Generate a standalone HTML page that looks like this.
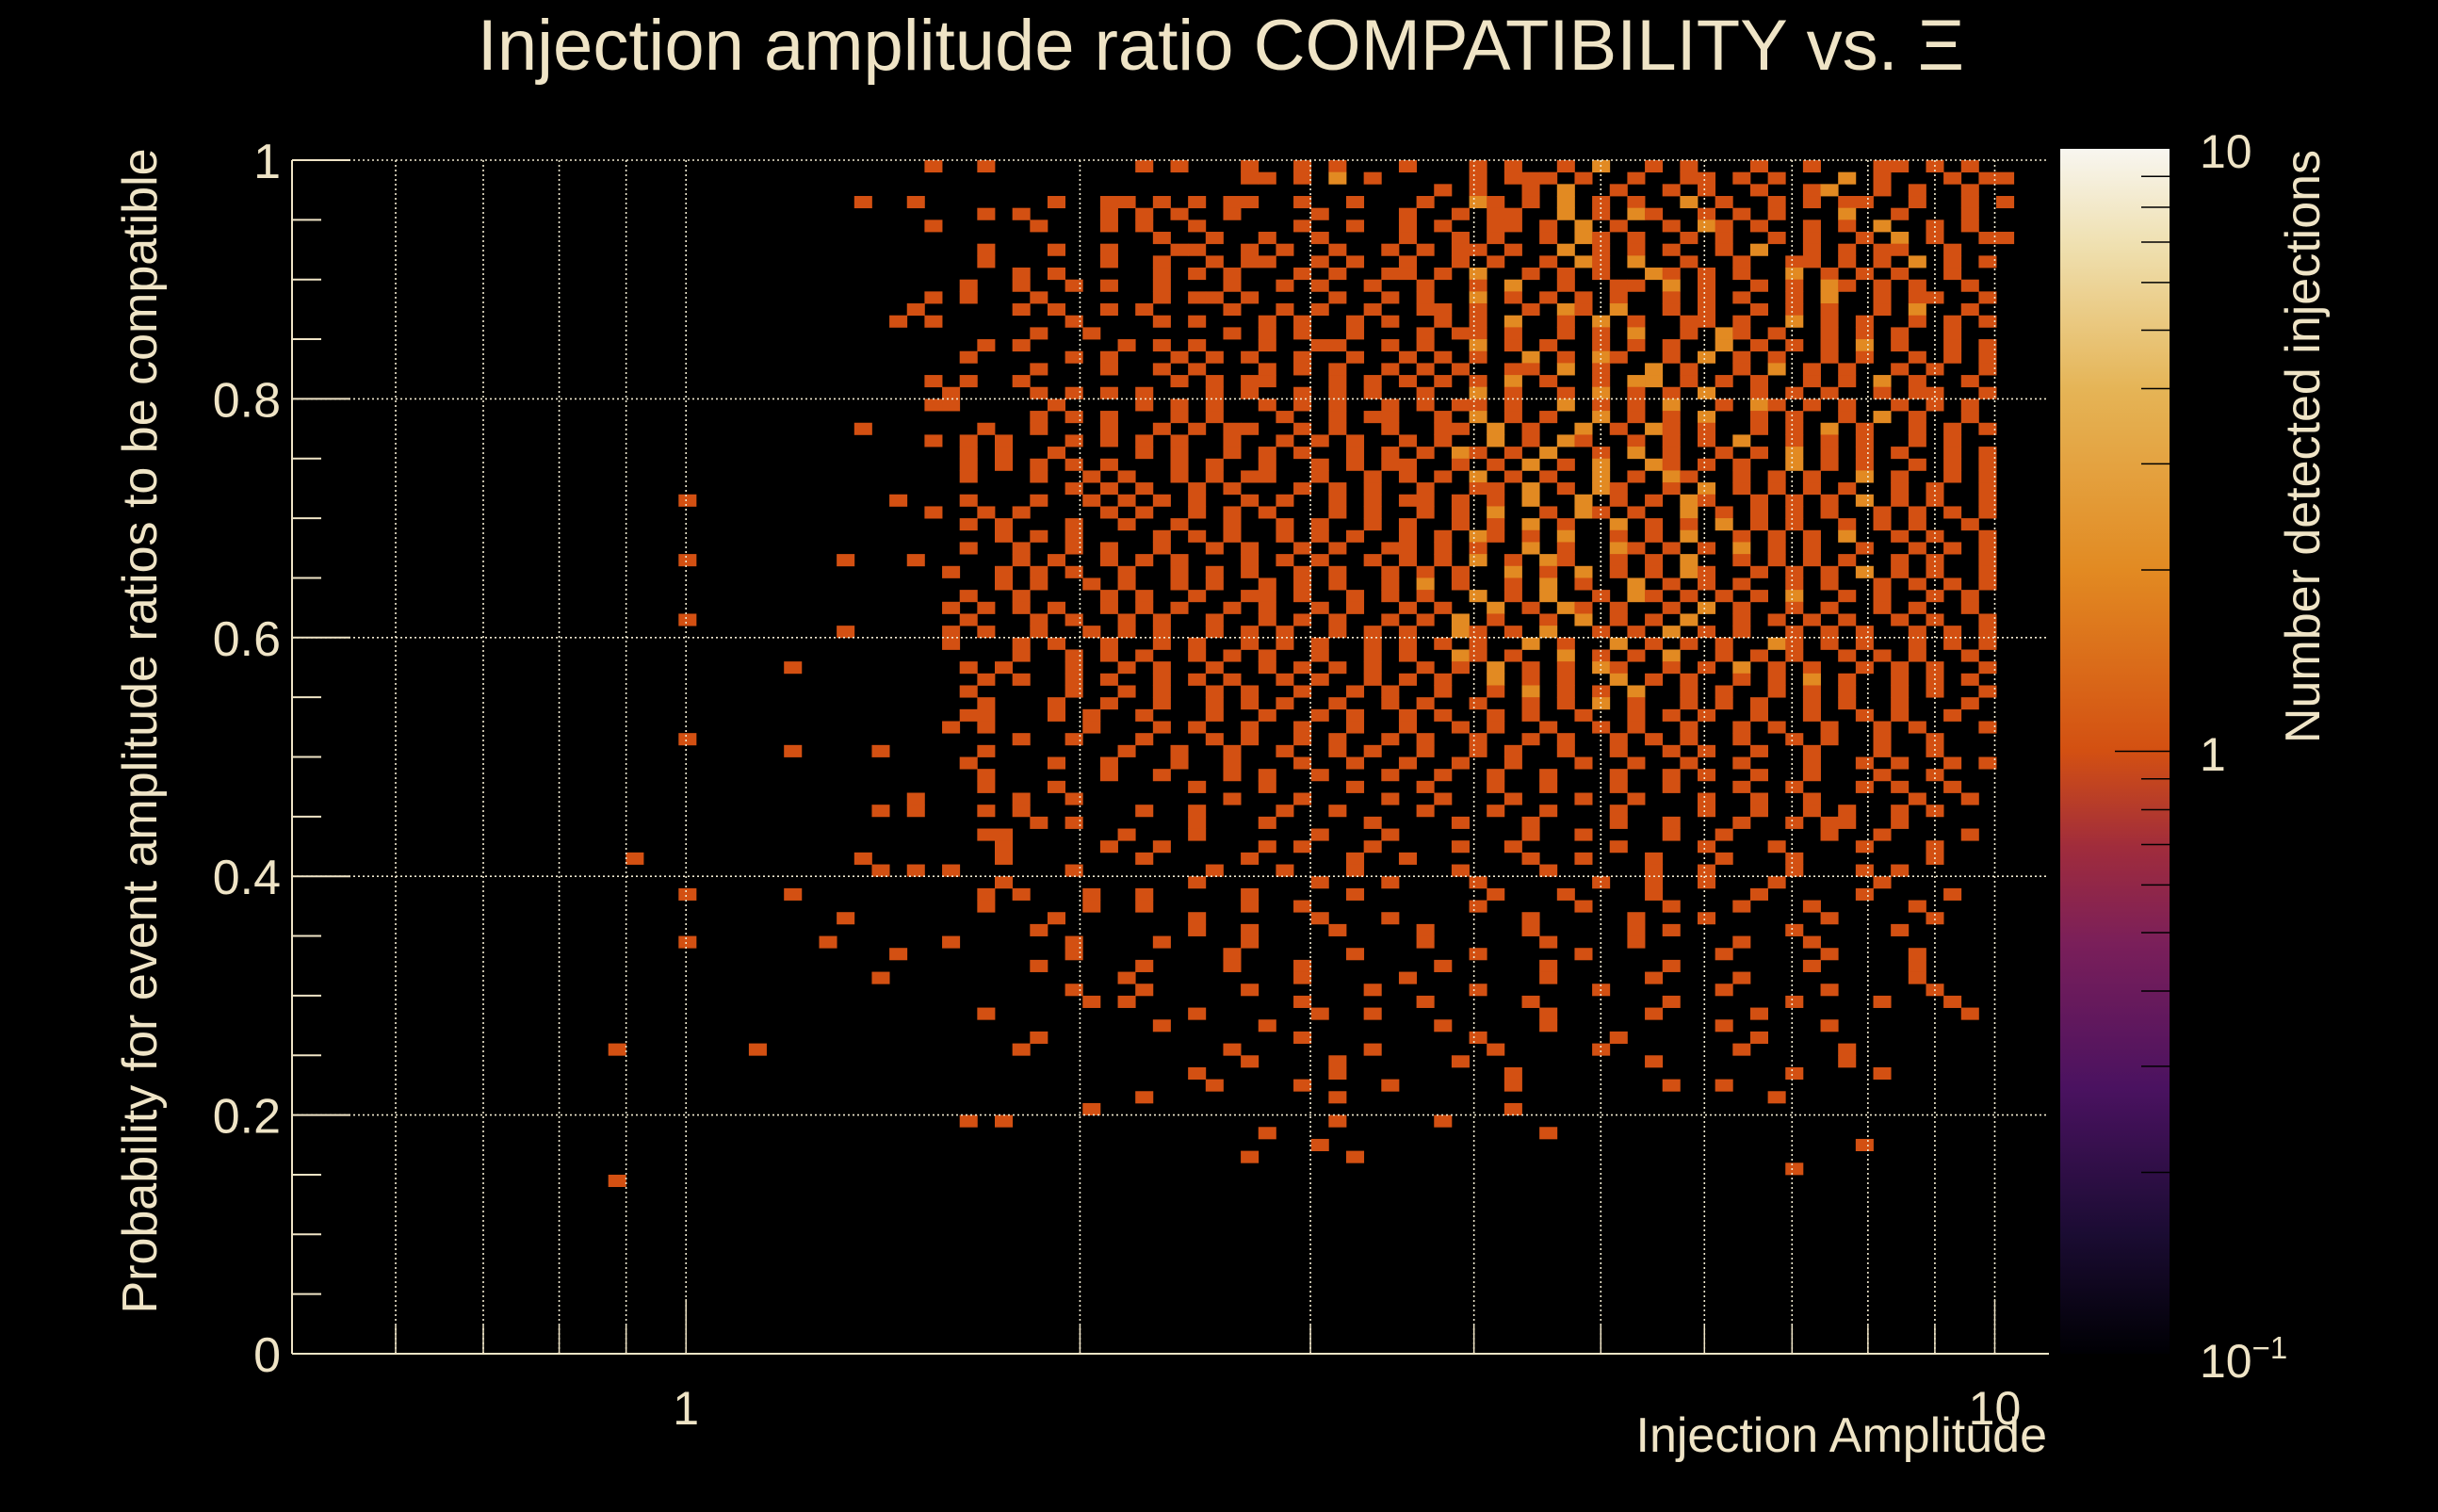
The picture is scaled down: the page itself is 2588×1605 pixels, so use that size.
<!DOCTYPE html>
<html><head><meta charset="utf-8">
<style>
html,body{margin:0;padding:0;background:#000;}
body{width:2588px;height:1600px;overflow:hidden;font-family:"Liberation Sans",sans-serif;}
svg text{font-family:"Liberation Sans",sans-serif;fill:#efe4c6;}
</style></head>
<body>
<svg id="chart" width="2588" height="1600" viewBox="0 0 2588 1600" xmlns="http://www.w3.org/2000/svg">
<rect x="0" y="0" width="2588" height="1600" fill="#000"/>
<g id="cells"></g>
<g id="grid"></g>
<g id="axes"></g>
<defs>
<linearGradient id="cbgrad" x1="0" y1="1" x2="0" y2="0">
<stop offset="0" stop-color="#000004"/>
<stop offset="0.1" stop-color="#1b0c33"/>
<stop offset="0.22" stop-color="#4a1260"/>
<stop offset="0.34" stop-color="#7a1f5a"/>
<stop offset="0.42" stop-color="#a02c3c"/>
<stop offset="0.5" stop-color="#d35012"/>
<stop offset="0.65" stop-color="#e28a22"/>
<stop offset="0.8" stop-color="#e5b456"/>
<stop offset="0.92" stop-color="#efe0b0"/>
<stop offset="1" stop-color="#f8f6f0"/>
</linearGradient>
</defs>
<rect x="2187" y="158" width="116" height="1279" fill="url(#cbgrad)"/>
<g id="cbticks"></g>
<text x="1296" y="74" font-size="76" text-anchor="middle">Injection amplitude ratio COMPATIBILITY vs.  Ξ</text>
<text transform="translate(166,776) rotate(-90)" font-size="52" text-anchor="middle">Probability for event amplitude ratios to be compatible</text>
<text x="2173" y="1541" font-size="52" text-anchor="end">Injection Amplitude</text>
<text transform="translate(2462,474) rotate(-90)" font-size="52" text-anchor="middle">Number detected injections</text>
<text x="2335" y="178" font-size="50">10</text>
<text x="2335" y="818" font-size="50">1</text>
<text x="2335" y="1462" font-size="50">10<tspan dy="-20" font-size="33">−1</tspan></text>
</svg>
<script>
// ---- data ----
const xTickValues = [1, 10];
const xTickLabels = ["1", "10"];
const yTickValues = [0, 0.2, 0.4, 0.6, 0.8, 1];
const yTickLabels = ["0", "0.2", "0.4", "0.6", "0.8", "1"];
const xGridValues = [0.6,0.7,0.8,0.9,1,2,3,4,5,6,7,8,9,10];
const colorbarMin = 0.1;
const colorbarMax = 10;
const firstCol = 12;   // column index of first char in each row string
const topRow = 99;     // row index of first string (rows go downward)
// counts per bin: '.' = empty, digits = count
const rowCounts = [
"........................1..1........1.1...1..1.1...1...1.1..1.2..1.1...1..1...11.1.1.",
"..........................................11.1.2.1.....1.111.1..1..11.1.1...2.1...1.11",
".....................................................1.1..1.2..1..1.1..1..12..1.1..1.",
"....................1..1.......1..11.1.1.11..1..1...1..21.1.2.1.1..2.1..1.1.11..1..1.1",
"...........................1.1....1.1.1..1....1....1..1.11..2.1.21..1.1.1...2..1...1.",
"........................1.....1...1.1..1.....1..1..1.1..11.1.2.1..1.21.1..1.1.2..1.1.",
".....................................1..1..1..1....1..1.1..1.21.1..1.1..1.1..1.2.1..11",
"...........................1...1..1...11..1.1..1..1.1.11.1..2.1.1.1..1.2..1.1.11..1..",
"...........................1......1..1..1.11..1.1..1..1.1..1.21.2..1..1..11.1.1.2.1.1",
".............................1.1.....1.1.1...1.1..11.1.2..1.1.1..21.1.1..2.1.1.1..1.",
"..........................1..1..1.1..1...1..1.1..1..1..1.2..1..11.2.1..1.1.21.1.1..1.",
"........................1.1...1......1.11.1....1..1.1..2.1.1.1.1..1.1.1..1.2..1.11..1",
".......................1.....1.1..1.1....1..1.1..1..11.1..1.21.2..1.1..1.1.1..1.2..1.",
"......................1.1.......1....1.1...1.1..1.1..1.1.2..1.2.1..11.1..2.1.1..1.1.1",
"..............................1..1.......1.1.1..1...1.11.1..1.1.2..1.21.1..1.1.1..1..",
"...........................1.1.....1.1.1...1..11..1.1..2.1.1..1.1.1..2.1.1.1.2.1..1.1",
"..........................1.....1.1...1.1.1..1..1..1.1.1..2.1.21..1.2.1.1..1.1..1.1.1",
"..............................1...1..1.1...1.1.1..1.1.1..11.2.1..2.1..1.2.1.1..1.1..1",
"........................1.1..1........1.1.11...1.1.1.1.1.2.1..1.22.1.1.1..1.1.2.1..1.",
".........................1....1.1.1.1...1.1..1.1.1..1..2.1..1.2.1.1.2..1.1.1..1.11..1",
"........................11.....1....1.1.1..1.1.1..1.1.11.1..2.1.1.2..1.21.1.1..1.1.1.",
"..............................1.1.1...1.1...1..1.11..1.2.1.1..2.1.1.2..1.1..1.2.1..1.",
"....................1......1..1...1..1.1.11..1.1..1..11.2.1..2.1.21.1..1.1.2.1..1.1.1",
"........................1.1.1...1.1.1.1..1..1.1.1..1.1..2.1.21..1.1.1.2..1.1.1..1.1..",
"..........................1.1..1....1.1..1.1.1..1.1.1.21.1.2..1.2.1..1.1.2.1.1.1..1.1",
"..........................1.1.1.1.1...1.1..1..1.1.11..1.1.2.1.2..21.1.1..2.1.1..1.1.1",
"..........................1...1..1.1..1.1.11..1..1.1.1.2.1.1..2.1.21..1.1.1..2.1..1.1",
"................................1.1.1..1.1...1.1.1..1..11.2.1.21..1.2.1.1.1.1..1.1..1",
"..........1...........1...1...1..1.1.1.1..1.1..1.1.11.1.1.2..2.1.1.21..1.1.1.2.1.1..1",
"........................1..1.1....1.1..1.1.1...1.1..1.1.2..1.21.1..2.1.1.1.1..1.1.1.1",
"..........................1.1...1..1..1..1..1.1..1.1..1.1.2.1..2.1.1.2.1.1..1.1.1..1.",
"............................1.1.1....1.1.1..1.1.1..1.1.21.1.2..1.1.2..1.1.1.2..1.1..1",
"..........................1..1..1.1..1..1.1..1.1..11.1.1..2.1..21.1.1.2.1.1..1..1.1.1",
"..........1........1...1.....1.1..1.1.1...1.1.1..1.1.1.2.1.21..1.1.2..1.1.1.1..1.1..1",
".........................1..1.1.1..1..1.1.1..1.1..1.1.1..2.1.2.1.1.21..1.1.1.2.1.1..1",
"............................1.1..1.1..1.1..1.1.1..1.2.1..1.2.1..2.1.1.1..1.1..1.1.1.1",
"..........................1..1....1.1..1..11.1..1.1.1..2.1.2..1.21.1.1.1.2..1.1..1.1.",
".........................1.1.1.1..1.1.1..1.1..1.1..1.1..2.1.21.1..1.2.1..1.1..1.1..1.",
"..........1...............1...1.1..1.1..1..1.1.1..1.1.2.1..1.2.1.1.2..1.1.1.1..1.1..1",
"...................1.....1.1..1..1.1.1..1.1.1..1.1.1..21.1.2..1.1.2.1.1..1.1.1..1.1.1",
".........................1...1.1..1..1.1..1.1.1..1.1.1.1..2.1..2.1.1.1..21.1.1..1.1.1",
".............................1..1.1.1..1.1.1..1..1.1..21.1..2.1.1.2..1.1.1..1.1.1..1.",
"................1.........1.1...1..1.1..1..1.1.1.1..1.1.2.1.1.21..1.1.2.1.1..1.1.1..1",
"...........................1.1..1.1..1.1.1..1.1..1.1.1..2.1.1..2.1.1..1.1.2.1..1.1.1.",
"..........................1.....1..1.1..1.1..1..1.1..1..1.2.1.1.2..1.1..1.1.1..1.1..1",
"...........................1...1..1..1..1.1.1..1..1.1..1..1.1.2.1..1.1.1..1.1..1...1.",
"..........................11...1.1..1...1..1..1.1..1.1..1.1..1..1.1.1..1..1..1.1..1..",
".........................1.1.....1...1.1..1..1..1..1..1.1..1..1.1..1..1.1..1..1.1...1",
"..........1..................1..1...1...1.1..1.1..1.1..1..1.1..1.1.1..1..1.1..1..1...",
"................1....1.....1.......1..1..1..1..1.1..1..1.1..1..1..1.1..1..1...1..1...",
"..........................1....1..1...1..1...1..1..1..1..1...1..1..1..1...1..1.1..1.1",
"...........................1......1..1...1.1..1...1..1..1..1...1..1.1..1..1...1..1...",
"...........................1...1.......1...1....1...1...1..1...1..1...1..1...1.1..1..",
".......................1.....1..1........1...1....1..1...1...1..1...1..1..1.....1..1.",
".....................1.1...1.1......1..1....1..1....1...1..1...1....1..1..1.1..1.1...",
"..............................1.1......1...1.....1....1...1....1..1...1..1.11..1.....",
"...........................11......1...1......1...1.......1..1....1..1.....1..1....1.",
"............................1.....1..1.....1.1...1....1..1.....1....1...1....1...1...",
".......1............1.......1.......1.....1.....1..1......1..1...1...1...1.......1...",
".....................1.1.1......1.......1...1...1.....1....1.....1..1....1...1.1.....",
"............................1..........1......1...1....1......1..1..1...1.....1......",
"..........1.....1..........1.1...1..1.....1.....1.......1...1....1.....1.....1....1...",
"...........................1.....1..1.....1..1.........1.....1....1...1...1.....1....",
"...................1...........1.......1......1...1.......1.....1...1......1.....1...",
"..............................1........1..1....1....1.....1.....1.1......1.....1.....",
"..........1.......1......1......1....1....1.........1......1....1.....1...1...........",
"......................1.........1........1......1......1.....1.......1.....1....1....",
"..............................1.....1....1...1.......1.....1......1.......1.....1....",
".....................1.............1.........1.....1.......1.....1....1.........1...",
"................................1...1.....1......1.....1......1......1.....1.....1...",
".................................1.1.........1......1.....1.......1......1....1...1..",
"...........................1...........1......1..1.........1.....1.....1...........1.",
".....................................1.....1.........1.....1.........1.....1.........",
"..............................1..............1.........1.......1.......1.............",
"......1.......1..............1...........1.......1......1.....1.......1.....1........",
"..........................................1....1......1..........1..........1........",
".......................................1.......1.........1...............1....1......",
"........................................1....1....1......1........1..1...............",
"....................................1..........1........................1............",
".................................1.......................1...........................",
"..........................1.1..................1.....1...............................",
"...........................................1...............1.........................",
"..............................................1..............................1.......",
"..........................................1.....1....................................",
".........................................................................1...........",
"......1..............................................................................",
"....................................................................................."
];
// ---- geometry ----
const PL = 310, PR = 2175, PT = 170, PB = 1437;
const xMinLog = Math.log10(0.5), xMaxLog = Math.log10(11);
const nBinsX = 100, nBinsY = 100;
function xScale(v){ return PL + (Math.log10(v) - xMinLog) / (xMaxLog - xMinLog) * (PR - PL); }
function yScale(v){ return PB - v * (PB - PT); }
function colX(c){ return PL + c * (PR - PL) / nBinsX; }
function rowY(r){ return yScale((r + 1) / nBinsY); }
const cbTop = 158, cbBot = 1437;
function cbScale(v){ return cbBot - (Math.log10(v) - Math.log10(colorbarMin)) / (Math.log10(colorbarMax) - Math.log10(colorbarMin)) * (cbBot - cbTop); }
function colorFor(n){
  if (n <= 1) return "#d35012";
  if (n === 2) return "#e28a22";
  if (n === 3) return "#e5a535";
  if (n === 4) return "#e4bb5e";
  return "#efdc9f";
}
const NS = "http://www.w3.org/2000/svg";
const cells = document.getElementById("cells");
const cw = (PR - PL) / nBinsX, ch = (PB - PT) / nBinsY;
rowCounts.forEach((s, k) => {
  const r = topRow - k;
  for (let j = 0; j < s.length; j++) {
    const c = s[j];
    if (c === '.') continue;
    const n = parseInt(c, 10);
    const rect = document.createElementNS(NS, "rect");
    rect.setAttribute("x", colX(firstCol + j).toFixed(2));
    rect.setAttribute("y", rowY(r).toFixed(2));
    rect.setAttribute("width", (cw + 0.4).toFixed(2));
    rect.setAttribute("height", (ch + 0.4).toFixed(2));
    rect.setAttribute("fill", colorFor(n));
    
    
    cells.appendChild(rect);
  }
});
const grid = document.getElementById("grid");
xGridValues.forEach(v => {
  const l = document.createElementNS(NS, "line");
  const x = xScale(v);
  l.setAttribute("x1", x); l.setAttribute("x2", x);
  l.setAttribute("y1", PT); l.setAttribute("y2", PB);
  l.setAttribute("stroke", "#f2ead0"); l.setAttribute("stroke-width", "1.6");
  l.setAttribute("stroke-dasharray", "2,3");
  
  
  grid.appendChild(l);
});
yTickValues.slice(1).forEach(v => {
  const l = document.createElementNS(NS, "line");
  const y = yScale(v);
  l.setAttribute("x1", PL); l.setAttribute("x2", PR);
  l.setAttribute("y1", y); l.setAttribute("y2", y);
  l.setAttribute("stroke", "#f2ead0"); l.setAttribute("stroke-width", "1.6");
  l.setAttribute("stroke-dasharray", "2,3");
  
  
  grid.appendChild(l);
});
const axes = document.getElementById("axes");
function line(x1,y1,x2,y2,w,name){
  const l = document.createElementNS(NS, "line");
  l.setAttribute("x1", x1); l.setAttribute("y1", y1); l.setAttribute("x2", x2); l.setAttribute("y2", y2);
  l.setAttribute("stroke", "#efe4c6"); l.setAttribute("stroke-width", w);
  
  
  axes.appendChild(l);
}
line(PL, PT, PL, PB, 2, "y-axis-line");
line(PL, PB, PR, PB, 2, "x-axis-line");
for (let i = 0; i <= 20; i++) {
  const y = yScale(i / 20);
  line(PL, y, PL + (i % 4 === 0 ? 62 : 31), y, 2, "y-axis-tick");
}
xGridValues.forEach(v => {
  const x = xScale(v);
  line(x, PB, x, PB - (v === 1 || v === 10 ? 58 : 30), 1.5, "x-axis-tick");
});
yTickValues.forEach((v, i) => {
  const t = document.createElementNS(NS, "text");
  t.setAttribute("x", PL - 12); t.setAttribute("y", yScale(v) + 19);
  t.setAttribute("font-size", "52"); t.setAttribute("text-anchor", "end");
  t.textContent = yTickLabels[i];
  
  
  axes.appendChild(t);
});
xTickValues.forEach((v, i) => {
  const t = document.createElementNS(NS, "text");
  t.setAttribute("x", xScale(v)); t.setAttribute("y", 1512);
  t.setAttribute("font-size", "50"); t.setAttribute("text-anchor", "middle");
  t.textContent = xTickLabels[i];
  
  
  axes.appendChild(t);
});
const cbt = document.getElementById("cbticks");
[0.2,0.3,0.4,0.5,0.6,0.7,0.8,0.9,1,2,3,4,5,6,7,8,9].forEach(v => {
  const y = cbScale(v);
  const l = document.createElementNS(NS, "line");
  l.setAttribute("x1", v === 1 ? 2245 : 2273); l.setAttribute("x2", 2303);
  l.setAttribute("y1", y); l.setAttribute("y2", y);
  l.setAttribute("stroke", "#000"); l.setAttribute("stroke-width", "1.5");
  
  
  cbt.appendChild(l);
});
</script>
</body></html>
